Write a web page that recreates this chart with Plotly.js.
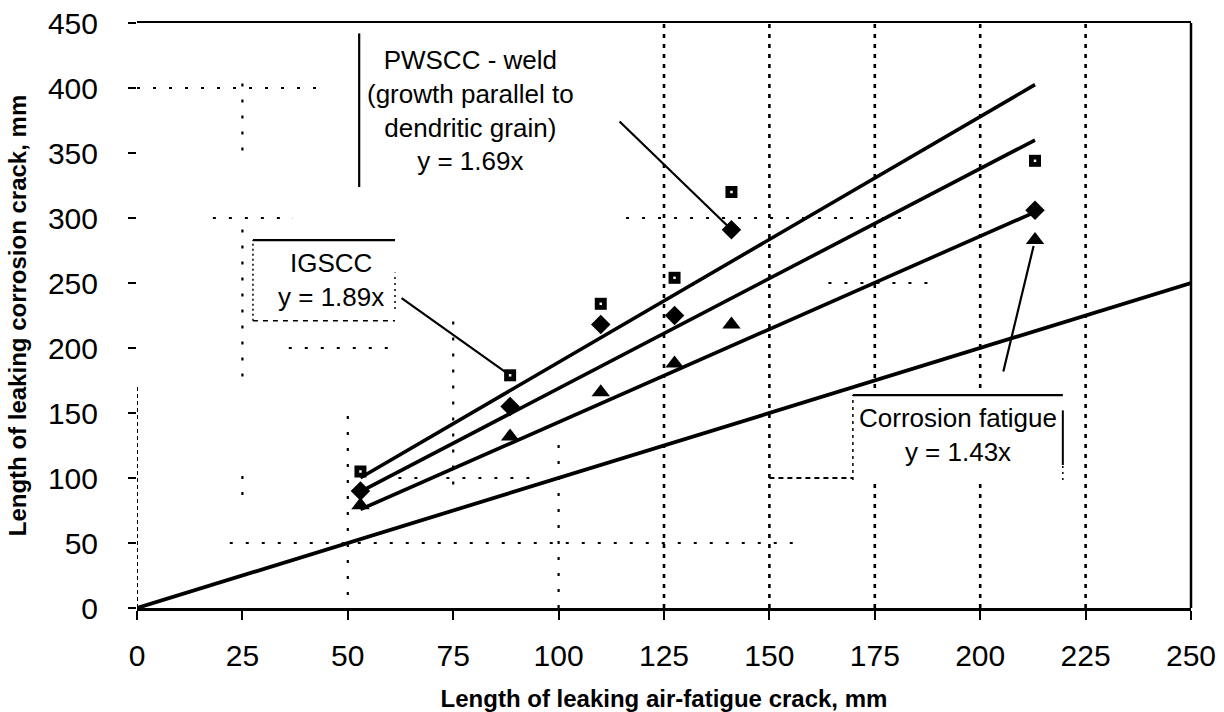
<!DOCTYPE html>
<html>
<head>
<meta charset="utf-8">
<script src="https://cdn.plot.ly/plotly-3.0.1.min.js"></script>
<style>
  html, body { margin: 0; padding: 0; background: #fff; }
  #chart { width: 1224px; height: 712px; }
</style>
</head>
<body>
<div id="chart"></div>
<script>
// Axis ticks
const xTickVals = [0, 25, 50, 75, 100, 125, 150, 175, 200, 225, 250];
const yTickVals = [0, 50, 100, 150, 200, 250, 300, 350, 400, 450];

// Leaking air-fatigue crack length (mm) for each specimen
const airFatigueLength = [53, 88.5, 110, 127.5, 141, 213];

// Matching leaking corrosion crack lengths (mm)
const igsccLength = [105, 179, 234, 254, 320, 344];
const pwsccWeldLength = [90, 155, 218, 225, 291, 306];
const corrosionFatigueLength = [79, 132, 166, 188, 218, 283];

// Fitted slopes (corrosion length / air-fatigue length)
const slopeIgscc = 1.89;
const slopePwscc = 1.69;
const slopeCorrosionFatigue = 1.43;

// 1:1 reference line
const unityX = [0, 250];
const unityY = [0, 250];

const FONT = 'Liberation Sans, Arial, Helvetica, sans-serif';
const INK = '#000';

const fitX = [airFatigueLength[0], airFatigueLength[airFatigueLength.length - 1]];
const fitLine = (slope) => fitX.map(v => slope * v);

const lineTrace = (x, y, w) => ({
  x: x, y: y, type: 'scatter', mode: 'lines',
  line: { color: INK, width: w }, hoverinfo: 'skip', showlegend: false
});

const traces = [
  lineTrace(unityX, unityY, 3.8),
  lineTrace(fitX, fitLine(slopeIgscc), 3.6),
  lineTrace(fitX, fitLine(slopePwscc), 3.6),
  lineTrace(fitX, fitLine(slopeCorrosionFatigue), 3.6),
  {
    x: airFatigueLength, y: igsccLength, type: 'scatter', mode: 'markers', name: 'IGSCC',
    marker: { symbol: 'square', size: 12, color: INK },
    showlegend: false
  },
  {
    // small light core of the IGSCC squares
    x: airFatigueLength, y: igsccLength, type: 'scatter', mode: 'markers', hoverinfo: 'skip',
    marker: { symbol: 'square', size: 2.5, color: '#fff' },
    showlegend: false
  },
  {
    x: airFatigueLength, y: pwsccWeldLength, type: 'scatter', mode: 'markers', name: 'PWSCC - weld',
    marker: { symbol: 'diamond', size: 15, color: INK },
    showlegend: false
  },
  {
    x: airFatigueLength, y: corrosionFatigueLength, type: 'scatter', mode: 'markers', name: 'Corrosion fatigue',
    marker: { symbol: 'triangle-up', size: 16, color: INK },
    showlegend: false
  }
];

// Dotted grid, partly faded
const dotted = { color: INK, width: 2.6, dash: '4px,6px' };
const sparse = { color: INK, width: 2.2, dash: '3px,13px' };
const vSeg = (x, y0, y1, line) => ({ type: 'line', xref: 'x', yref: 'y', x0: x, x1: x, y0: y0, y1: y1, layer: 'below', line: line || sparse });
const hSeg = (y, x0, x1, line) => ({ type: 'line', xref: 'x', yref: 'y', x0: x0, x1: x1, y0: y, y1: y, layer: 'below', line: line || sparse });

const shapes = [
  // full-height vertical grid lines
  vSeg(125, 0, 450, dotted), vSeg(150, 0, 450, dotted), vSeg(175, 0, 450, dotted),
  vSeg(200, 0, 450, dotted), vSeg(225, 0, 450, dotted),
  // partial vertical grid lines
  vSeg(100, 0, 135), vSeg(75, 95, 225), vSeg(50, 10, 155),
  vSeg(25, 178, 300), vSeg(25, 352, 412), vSeg(25, 87, 106),
  // left axis, dotted
  vSeg(0, 0, 170, { color: INK, width: 2, dash: '4px,3px' }),
  // partial horizontal grid lines
  hSeg(50, 22, 156), hSeg(100, 62, 95), hSeg(100, 150, 170, { color: INK, width: 2, dash: '5px,4px' }),
  hSeg(200, 36, 61), hSeg(300, 116, 184), hSeg(300, 18, 37), hSeg(250, 164, 188), hSeg(400, 0, 43),
  // white panel behind the corrosion fatigue label
  { type: 'rect', xref: 'x', yref: 'y', x0: 169.8, x1: 219.6, y0: 98.5, y1: 163.8, layer: 'below',
    fillcolor: '#fff', line: { width: 0 } },
  // corrosion fatigue label frame
  hSeg(163.8, 169.8, 219.6, { color: INK, width: 2.2 }),
  vSeg(169.8, 98.5, 163.8, { color: INK, width: 1.5, dash: '3px,4px' }),
  vSeg(219.6, 110, 152, { color: INK, width: 2 }),
  vSeg(219.6, 98.5, 110, { color: INK, width: 1.5, dash: '2px,4px' }),
  // IGSCC label frame
  hSeg(283, 27.5, 61.2, { color: INK, width: 2.2 }),
  vSeg(27.5, 221, 283, { color: INK, width: 1.5, dash: '2px,3px' }),
  hSeg(221, 27.5, 61.2, { color: INK, width: 1.5, dash: '5px,5px' }),
  vSeg(61.2, 230, 258, { color: INK, width: 1.5, dash: '2px,4px' }),
  // PWSCC label side rule
  vSeg(52.7, 323.8, 442, { color: INK, width: 2.2 }),
  // right frame
  { type: 'line', xref: 'paper', yref: 'paper', x0: 1, x1: 1, y0: 0, y1: 1, line: { color: INK, width: 2.5 } }
];

const labelFont = { family: FONT, size: 26, color: INK };
const leader = (x, y, ax, ay) => ({
  x: x, y: y, xref: 'x', yref: 'y', axref: 'x', ayref: 'y', ax: ax, ay: ay,
  text: '', showarrow: true, arrowhead: 0, arrowwidth: 2.2, arrowcolor: INK, standoff: 6
});

const annotations = [
  {
    x: 79, y: 383, xref: 'x', yref: 'y', showarrow: false, font: labelFont, align: 'center',
    text: 'PWSCC - weld<br>(growth parallel to<br>dendritic grain)<br>y = ' + slopePwscc + 'x'
  },
  {
    x: 46, y: 252, xref: 'x', yref: 'y', showarrow: false, font: labelFont, align: 'center',
    text: 'IGSCC<br>y = ' + slopeIgscc + 'x'
  },
  {
    x: 194.7, y: 133, xref: 'x', yref: 'y', showarrow: false, font: labelFont, align: 'center',
    text: 'Corrosion fatigue<br>y = ' + slopeCorrosionFatigue + 'x'
  },
  leader(airFatigueLength[1], igsccLength[1], 62.4, 239.2),
  leader(airFatigueLength[4], pwsccWeldLength[4], 114.1, 375.4),
  leader(airFatigueLength[5], corrosionFatigueLength[5], 205.4, 180.8)
];

const layout = {
  width: 1224, height: 712,
  paper_bgcolor: '#fff', plot_bgcolor: '#fff',
  margin: { l: 137, r: 33, t: 23, b: 104 },
  font: { family: FONT, color: INK },
  xaxis: {
    range: [0, 250], tickvals: xTickVals, ticktext: xTickVals.map(String),
    ticks: 'outside', ticklen: 9, tickwidth: 2, tickcolor: INK,
    showline: true, linecolor: INK, linewidth: 2.5, mirror: true,
    showgrid: false, zeroline: false, ticklabelstandoff: 10,
    tickfont: { family: FONT, size: 30, color: INK },
    title: { text: 'Length of leaking air-fatigue crack, mm', standoff: 22,
             font: { family: FONT, size: 24, color: INK, weight: 'bold' } }
  },
  yaxis: {
    range: [0, 450], tickvals: yTickVals, ticktext: yTickVals.map(String),
    ticks: 'outside', ticklen: 8, tickwidth: 2, tickcolor: INK,
    showline: false, showgrid: false, zeroline: false, ticklabelstandoff: 24,
    tickfont: { family: FONT, size: 30, color: INK },
    title: { text: 'Length of leaking corrosion crack, mm', standoff: 14,
             font: { family: FONT, size: 24, color: INK, weight: 'bold' } }
  },
  shapes: shapes,
  annotations: annotations,
  showlegend: false
};

Plotly.newPlot('chart', traces, layout, { displayModeBar: false, staticPlot: true });
</script>
</body>
</html>
